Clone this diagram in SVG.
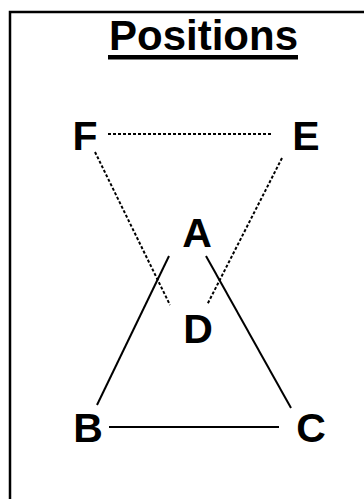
<svg xmlns="http://www.w3.org/2000/svg" width="364" height="499" viewBox="0 0 364 499">
<style>
.lbl{font-family:"Liberation Sans",Arial,sans-serif;font-weight:bold;font-size:41px;fill:#000;text-anchor:middle}
.title{font-family:"Liberation Sans",Arial,sans-serif;font-weight:bold;font-size:42px;fill:#000;text-anchor:middle}
.solid{stroke:#000;stroke-width:2;fill:none}
.dot{stroke:#000;stroke-width:2;fill:none;stroke-dasharray:3,2}
</style>
<rect x="10" y="12" width="370" height="500" fill="none" stroke="#000" stroke-width="2.5"/>
<g id="title">
<text class="title" x="203.5" y="50">Positions</text>
<rect x="108" y="55" width="190" height="4.5" fill="#000"/>
</g>
<g id="connectors">
<line class="dot" x1="108" y1="134" x2="271" y2="134"/>
<line class="dot" x1="95" y1="152" x2="170" y2="305"/>
<line class="dot" x1="282" y1="158" x2="207" y2="305"/>
<line class="solid" x1="169" y1="256" x2="97" y2="405"/>
<line class="solid" x1="206" y1="256" x2="291" y2="408"/>
<line class="solid" x1="109" y1="427" x2="279" y2="427"/>
</g>
<g id="node-F"><text class="lbl" x="85" y="150">F</text></g>
<g id="node-E"><text class="lbl" x="306" y="150">E</text></g>
<g id="node-A"><text class="lbl" x="197" y="247">A</text></g>
<g id="node-D"><text class="lbl" x="198" y="343">D</text></g>
<g id="node-B"><text class="lbl" x="88" y="442">B</text></g>
<g id="node-C"><text class="lbl" x="311" y="442">C</text></g>
</svg>
